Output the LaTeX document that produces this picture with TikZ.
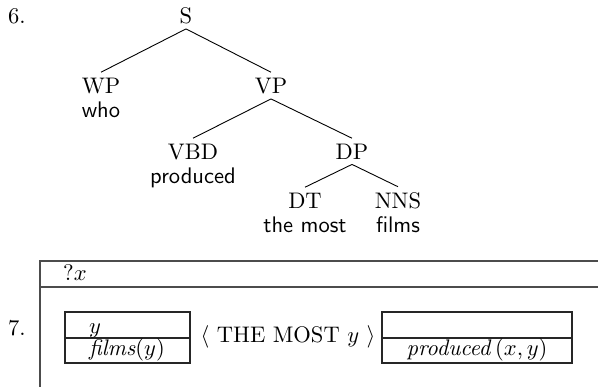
\documentclass[tikz,border=0pt]{standalone}
\usepackage{color}
\usepackage[usenames]{xcolor}
\usepackage{tikz}

\begin{document}
\begin{tikzpicture}[x=0.444pt,y=-0.444pt]
\useasboundingbox (0,0) rectangle (598,387);
\begin{scope}[cat/.style={anchor=base,inner sep=2.2pt},
              word/.style={anchor=base,inner sep=0pt,font=\sffamily},
              outline/.style={black!70,line width=0.85pt},
              cell/.style={black!85,line width=0.6pt}]
    % tree
    \node[anchor=base] (n6) at (17,23) {6.};
    \node[cat] (s) at (186,23) {S};
    \node[cat] (wp) at (101,93) {WP};
    \node[word] (who) at (101,117) {who};
    \node[cat] (vp) at (271,93) {VP};
    \node[cat] (vbd) at (193,159) {VBD};
    \node[word] (produced) at (193,183) {produced};
    \node[cat] (dp) at (352,159) {DP};
    \node[cat] (dt) at (305,208) {DT};
    \node[word] (themost) at (305,232) {the most};
    \node[cat] (nns) at (398,208) {NNS};
    \node[word] (films) at (398,232) {films};

    \draw (s.south) -- (wp.north);
    \draw (s.south) -- (vp.north);
    \draw (vp.south) -- (vbd.north);
    \draw (vp.south) -- (dp.north);
    \draw (dp.south) -- (dt.north);
    \draw (dp.south) -- (nns.north);

    % drs
    \node[anchor=base] (n7) at (17,335) {7.};
    \draw[outline] (598,261) -- (40,261) -- (40,387);
    \draw[outline] (40,287) -- (598,287);
    \node[anchor=base] (qx) at (75,280) {$?x$};

    \draw[cell] (65,312) rectangle (190,363);
    \draw[cell] (65,338) -- (190,338);
    \node[anchor=base] (uy) at (95,333) {$y$};
    \node[anchor=base] (filmsy) at (127,355) {\textit{films}$(y)$};

    \node[anchor=base] (most) at (288,342) {$\langle$ THE MOST $y$ $\rangle$};

    \draw[cell] (382,312) rectangle (572,363);
    \draw[cell] (382,338) -- (572,338);
    \node[anchor=base] (prod) at (477,355) {\textit{produced}\,$(x,y)$};
\end{scope}
\end{tikzpicture}
\end{document}
